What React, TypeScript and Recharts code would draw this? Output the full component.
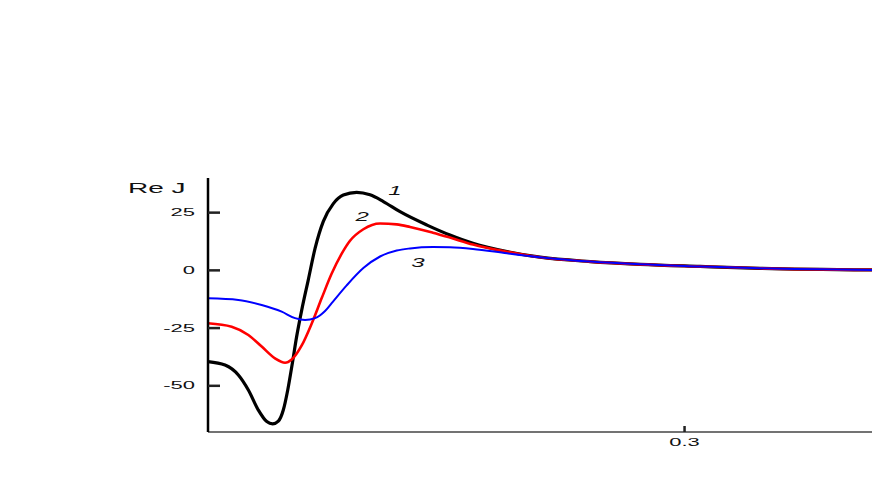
import { LineChart, Line, XAxis, YAxis, ReferenceDot } from 'recharts'

// curve 1 (black)
const curve1 = [
  { x: 0, y: -39.5 }, { x: 0.0107, y: -41.0 }, { x: 0.0191, y: -45.3 }, { x: 0.0254, y: -51.8 },
  { x: 0.0317, y: -60.5 }, { x: 0.037, y: -65.5 }, { x: 0.0407, y: -66.5 }, { x: 0.0443, y: -65.3 },
  { x: 0.0474, y: -60.5 }, { x: 0.0502, y: -51.8 }, { x: 0.0531, y: -40.2 }, { x: 0.0558, y: -28.7 },
  { x: 0.059, y: -17.2 }, { x: 0.0631, y: -4.2 }, { x: 0.0674, y: 9.5 }, { x: 0.0726, y: 21.2 },
  { x: 0.0789, y: 28.9 }, { x: 0.0852, y: 32.6 }, { x: 0.0936, y: 33.8 }, { x: 0.102, y: 32.7 },
  { x: 0.1104, y: 29.8 }, { x: 0.1209, y: 25.4 }, { x: 0.1379, y: 19.6 }, { x: 0.1523, y: 15.3 },
  { x: 0.1668, y: 11.7 }, { x: 0.1882, y: 8.1 }, { x: 0.209, y: 5.7 }, { x: 0.2405, y: 3.8 },
  { x: 0.272, y: 2.6 }, { x: 0.3097, y: 1.7 }, { x: 0.3475, y: 0.9 }, { x: 0.418, y: 0.2 },
]

// curve 2 (red)
const curve2 = [
  { x: 0, y: -22.9 }, { x: 0.0149, y: -24.4 }, { x: 0.0254, y: -28.0 }, { x: 0.0338, y: -33.0 },
  { x: 0.0422, y: -38.1 }, { x: 0.0485, y: -40.0 }, { x: 0.0527, y: -38.6 }, { x: 0.059, y: -32.5 },
  { x: 0.0653, y: -23.0 }, { x: 0.0716, y: -12.0 }, { x: 0.0778, y: -1.5 }, { x: 0.084, y: 7.0 },
  { x: 0.0894, y: 12.8 }, { x: 0.0978, y: 17.8 }, { x: 0.1083, y: 20.3 }, { x: 0.1188, y: 19.9 },
  { x: 0.1272, y: 18.8 }, { x: 0.1416, y: 16.3 }, { x: 0.1523, y: 14.2 }, { x: 0.1668, y: 11.2 },
  { x: 0.1882, y: 8.1 }, { x: 0.209, y: 5.7 }, { x: 0.2405, y: 3.8 }, { x: 0.272, y: 2.6 },
  { x: 0.3097, y: 1.7 }, { x: 0.3475, y: 0.9 }, { x: 0.418, y: 0.2 },
]

// curve 3 (blue)
const curve3 = [
  { x: 0, y: -12.1 }, { x: 0.0191, y: -12.8 }, { x: 0.0338, y: -15.0 }, { x: 0.0464, y: -17.9 },
  { x: 0.0548, y: -20.7 }, { x: 0.0611, y: -21.5 }, { x: 0.0674, y: -20.7 }, { x: 0.0737, y: -17.6 },
  { x: 0.0787, y: -13.5 }, { x: 0.0873, y: -6.5 }, { x: 0.0978, y: 1.0 }, { x: 0.1083, y: 6.0 },
  { x: 0.1188, y: 8.6 }, { x: 0.1272, y: 9.5 }, { x: 0.1416, y: 10.1 }, { x: 0.1523, y: 10.0 },
  { x: 0.1668, y: 9.3 }, { x: 0.1882, y: 7.4 }, { x: 0.209, y: 5.7 }, { x: 0.2405, y: 3.8 },
  { x: 0.272, y: 2.6 }, { x: 0.3097, y: 1.7 }, { x: 0.3475, y: 0.9 }, { x: 0.418, y: 0.2 },
]

const yTicks = [-50, -25, 0, 25]
const xTicks = [0.3]

const curveLabels = [
  { text: '1', x: 0.1177, y: 32.7 },
  { text: '2', x: 0.097, y: 21.4 },
  { text: '3', x: 0.1322, y: 1.5 },
]

const FONT = '"Liberation Sans", Arial, sans-serif'
const STRETCH = 2.2

// tick marks point into the plot, labels sit outside
const YTick = (props: any) => {
  const { x, y, payload } = props
  return (
    <g>
      <path d={`M${x},${y}h12`} stroke="#222" strokeWidth={2.5} fill="none" />
      <g transform={`translate(${x - 13},${y + 3.5})`}>
        <text transform={`scale(${STRETCH},1)`} textAnchor="end" fontFamily={FONT} fontSize={10} fill="#111">
          {payload.value}
        </text>
      </g>
    </g>
  )
}

const XTick = (props: any) => {
  const { x, y, payload } = props
  return (
    <g>
      <path d={`M${x},${y}v-6`} stroke="#222" strokeWidth={2.5} fill="none" />
      <g transform={`translate(${x},${y + 14})`}>
        <text transform={`scale(${STRETCH},1)`} textAnchor="middle" fontFamily={FONT} fontSize={10} fill="#111">
          {payload.value}
        </text>
      </g>
    </g>
  )
}

const CurveLabel = (text: string) => (props: any) => (
  <g transform={`translate(${props.cx},${props.cy})`}>
    <text transform="scale(2,1)" textAnchor="middle" fontFamily={FONT} fontStyle="italic" fontSize={12} fill="#111">
      {text}
    </text>
  </g>
)

export default function App() {
  return (
    <div style={{ position: 'absolute', left: 0, top: 0, width: 872, height: 491, background: '#fff' }}>
      <LineChart width={872} height={491} margin={{ top: 178, right: 0, bottom: 58, left: 207 }}>
        <XAxis
          type="number" dataKey="x" domain={[0, 0.418]} ticks={xTicks}
          height={1} tickSize={0} tickMargin={0} tickLine={false}
          axisLine={{ stroke: '#444', strokeWidth: 1.5 }} tick={<XTick />}
        />
        <YAxis
          type="number" domain={[-70, 40]} ticks={yTicks}
          width={1} tickSize={0} tickMargin={0} tickLine={false}
          axisLine={{ stroke: '#000', strokeWidth: 2.5 }} tick={<YTick />}
        />
        <Line data={curve1} dataKey="y" type="monotone" stroke="#000" strokeWidth={3.2} dot={false} isAnimationActive={false} />
        <Line data={curve2} dataKey="y" type="monotone" stroke="#ff0000" strokeWidth={2.6} dot={false} isAnimationActive={false} />
        <Line data={curve3} dataKey="y" type="monotone" stroke="#0000ff" strokeWidth={2} dot={false} isAnimationActive={false} />
        {curveLabels.map((l) => (
          <ReferenceDot key={l.text} x={l.x} y={l.y} r={0} ifOverflow="visible" shape={CurveLabel(l.text)} />
        ))}
      </LineChart>
      <span style={{
        position: 'absolute', left: 128, top: 181, fontFamily: FONT, fontSize: 14, lineHeight: '14px',
        transform: 'scaleX(2)', transformOrigin: 'left top', whiteSpace: 'nowrap', color: '#111',
      }}>
        Re J
      </span>
    </div>
  )
}
